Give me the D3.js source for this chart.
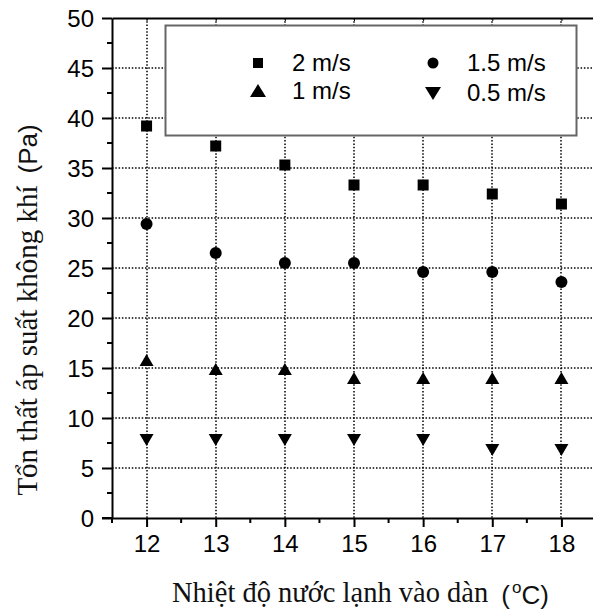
<!DOCTYPE html>
<html>
<head>
<meta charset="utf-8">
<script src="https://cdn.jsdelivr.net/npm/d3@7/dist/d3.min.js"></script>
<style>
  html, body { margin: 0; padding: 0; background: #fff; }
  svg { display: block; }
</style>
</head>
<body>
<svg id="chart" width="593" height="615"></svg>
<script>
// ---- data ----
const temps = [12, 13, 14, 15, 16, 17, 18];
const v2 = [39.2, 37.2, 35.3, 33.3, 33.3, 32.4, 31.4];
const v15 = [29.4, 26.5, 25.5, 25.5, 24.6, 24.6, 23.6];
const v1 = [15.8, 14.9, 14.9, 14.0, 14.0, 14.0, 14.0];
const v05 = [7.8, 7.8, 7.8, 7.8, 7.8, 6.8, 6.8];
const xTicks = [12, 13, 14, 15, 16, 17, 18];
const yTicks = [0, 5, 10, 15, 20, 25, 30, 35, 40, 45, 50];
const seriesNames = ["2 m/s", "1.5 m/s", "1 m/s", "0.5 m/s"];
const yTitle = "Tổn thất áp suất không khí";
const yUnit = "(Pa)";
const xTitle = "Nhiệt độ nước lạnh vào dàn";

const svg = d3.select("#chart");
const sans = "'Liberation Sans', Arial, sans-serif";
const serif = "'Liberation Serif', 'Times New Roman', serif";

const x = d3.scaleLinear().domain([11.5, 18.5]).range([112, 596]);
const y = d3.scaleLinear().domain([0, 50]).range([518, 18]);

// grid (dotted)
const gridG = svg.append("g");
xTicks.forEach(t => {
  gridG.append("line")
    .attr("x1", Math.round(x(t))).attr("x2", Math.round(x(t)))
    .attr("y1", y(50)).attr("y2", y(0))
    .style("stroke", "#000").style("stroke-width", "1.5px").style("stroke-dasharray", "1.5 1.8");
});
yTicks.filter(d => d > 0 && d < 50).forEach(t => {
  gridG.append("line")
    .attr("x1", x(11.5)).attr("x2", x(18.5))
    .attr("y1", Math.round(y(t))).attr("y2", Math.round(y(t)))
    .style("stroke", "#000").style("stroke-width", "1.5px").style("stroke-dasharray", "1.5 1.8");
});

// axes
const yMinor = d3.range(2.5, 50, 5);
const xMinor = d3.range(12.5, 18.5, 1);

const yAxis = d3.axisLeft(y).tickValues(yTicks).tickSize(10).tickPadding(8).tickSizeOuter(0);
const gy = svg.append("g").attr("transform", `translate(${x(11.5)},0)`).call(yAxis);
gy.selectAll("text").attr("font-family", sans).attr("font-size", 24).attr("fill", "#000").attr("dy", "0.36em");
gy.selectAll("line, path").attr("stroke", "#000").attr("stroke-width", 2);
gy.append("g").selectAll("line").data(yMinor).join("line")
  .attr("x1", -5).attr("x2", 0).attr("y1", d => y(d)).attr("y2", d => y(d))
  .attr("stroke", "#000").attr("stroke-width", 2);

const xAxis = d3.axisBottom(x).tickValues(xTicks).tickFormat(d3.format("d"))
  .tickSize(9).tickPadding(8).tickSizeOuter(0);
const gx = svg.append("g").attr("transform", `translate(0,${y(0)})`).call(xAxis);
gx.selectAll("text").attr("font-family", sans).attr("font-size", 24).attr("fill", "#000");
gx.selectAll("line, path").attr("stroke", "#000").attr("stroke-width", 2);
gx.append("g").selectAll("line").data([11.5].concat(xMinor)).join("line")
  .attr("x1", d => x(d)).attr("x2", d => x(d)).attr("y1", 0).attr("y2", 5)
  .attr("stroke", "#000").attr("stroke-width", 2);
gx.append("line").attr("x1", x(11.5) - 10).attr("x2", x(11.5)).attr("y1", 0).attr("y2", 0)
  .attr("stroke", "#000").attr("stroke-width", 2);

// top axis
const xTop = d3.axisTop(x).tickValues(xTicks).tickSize(-3).tickFormat("").tickSizeOuter(0);
const gt = svg.append("g").attr("transform", `translate(0,${y(50)})`).call(xTop);
gt.selectAll("line").attr("stroke", "#000").attr("stroke-width", 1);
gt.selectAll("path").attr("stroke", "#000").attr("stroke-width", 2);

// markers
const sqSide = 11, cR = 6, triW = 14, triH = 12;
function drawSquare(g, data) {
  g.selectAll(null).data(data).join("rect")
    .attr("x", d => x(d[0]) - sqSide / 2).attr("y", d => y(d[1]) - sqSide / 2)
    .attr("width", sqSide).attr("height", sqSide).attr("fill", "#000");
}
function drawCircle(g, data) {
  g.selectAll(null).data(data).join("circle")
    .attr("cx", d => x(d[0])).attr("cy", d => y(d[1])).attr("r", cR).attr("fill", "#000");
}
function triPath(cx, cy, up) {
  const s = up ? -1 : 1;
  return `M${cx - triW / 2},${cy - s * triH / 2}L${cx + triW / 2},${cy - s * triH / 2}L${cx},${cy + s * triH / 2}Z`;
}
function drawTri(g, data, up) {
  g.selectAll(null).data(data).join("path")
    .attr("d", d => triPath(x(d[0]), y(d[1]), up)).attr("fill", "#000");
}
const marks = svg.append("g");
drawSquare(marks.append("g"), temps.map((t, i) => [t, v2[i]]));
drawCircle(marks.append("g"), temps.map((t, i) => [t, v15[i]]));
drawTri(marks.append("g"), temps.map((t, i) => [t, v1[i]]), true);
drawTri(marks.append("g"), temps.map((t, i) => [t, v05[i]]), false);

// legend
const lg = svg.append("g");
lg.append("rect").attr("x", 165.5).attr("y", 25.5).attr("width", 411).attr("height", 110)
  .attr("fill", "#fff").attr("stroke", "#666").attr("stroke-width", 2);
const legendItems = [
  { name: seriesNames[0], mx: 258, my: 63, type: "sq" },
  { name: seriesNames[1], mx: 433, my: 63, type: "ci" },
  { name: seriesNames[2], mx: 258, my: 91, type: "up" },
  { name: seriesNames[3], mx: 433, my: 93, type: "dn" }
];
legendItems.forEach(it => {
  if (it.type === "sq") lg.append("rect").attr("x", it.mx - 5).attr("y", it.my - 5).attr("width", 10).attr("height", 10).attr("fill", "#000");
  if (it.type === "ci") lg.append("circle").attr("cx", it.mx).attr("cy", it.my).attr("r", 5.5).attr("fill", "#000");
  if (it.type === "up") lg.append("path").attr("d", `M${it.mx - 8},${it.my + 6}L${it.mx + 8},${it.my + 6}L${it.mx},${it.my - 7}Z`).attr("fill", "#000");
  if (it.type === "dn") lg.append("path").attr("d", `M${it.mx - 8},${it.my - 6}L${it.mx + 8},${it.my - 6}L${it.mx},${it.my + 7}Z`).attr("fill", "#000");
  lg.append("text").attr("x", it.mx + 34).attr("y", it.my + 8)
    .attr("font-family", sans).attr("font-size", 24).attr("fill", "#000").text(it.name);
});

// y title
const yt = svg.append("text")
  .attr("transform", "translate(37,310) rotate(-90)")
  .attr("text-anchor", "middle").attr("fill", "#111");
yt.append("tspan").attr("font-family", serif).attr("font-size", 29).text(yTitle);
yt.append("tspan").attr("font-family", sans).attr("font-size", 26).attr("dx", 12).text(yUnit);

// x title
const xt = svg.append("text").attr("x", 172).attr("y", 602).attr("fill", "#111");
xt.append("tspan").attr("font-family", serif).attr("font-size", 28.5).text(xTitle);
xt.append("tspan").attr("font-family", sans).attr("font-size", 26).attr("dx", 13).attr("dy", 2).text("(");
xt.append("tspan").attr("font-family", sans).attr("font-size", 17).attr("dx", 2).attr("dy", -11).text("o");
xt.append("tspan").attr("font-family", sans).attr("font-size", 26).attr("dy", 11).text("C)");
</script>
</body>
</html>
